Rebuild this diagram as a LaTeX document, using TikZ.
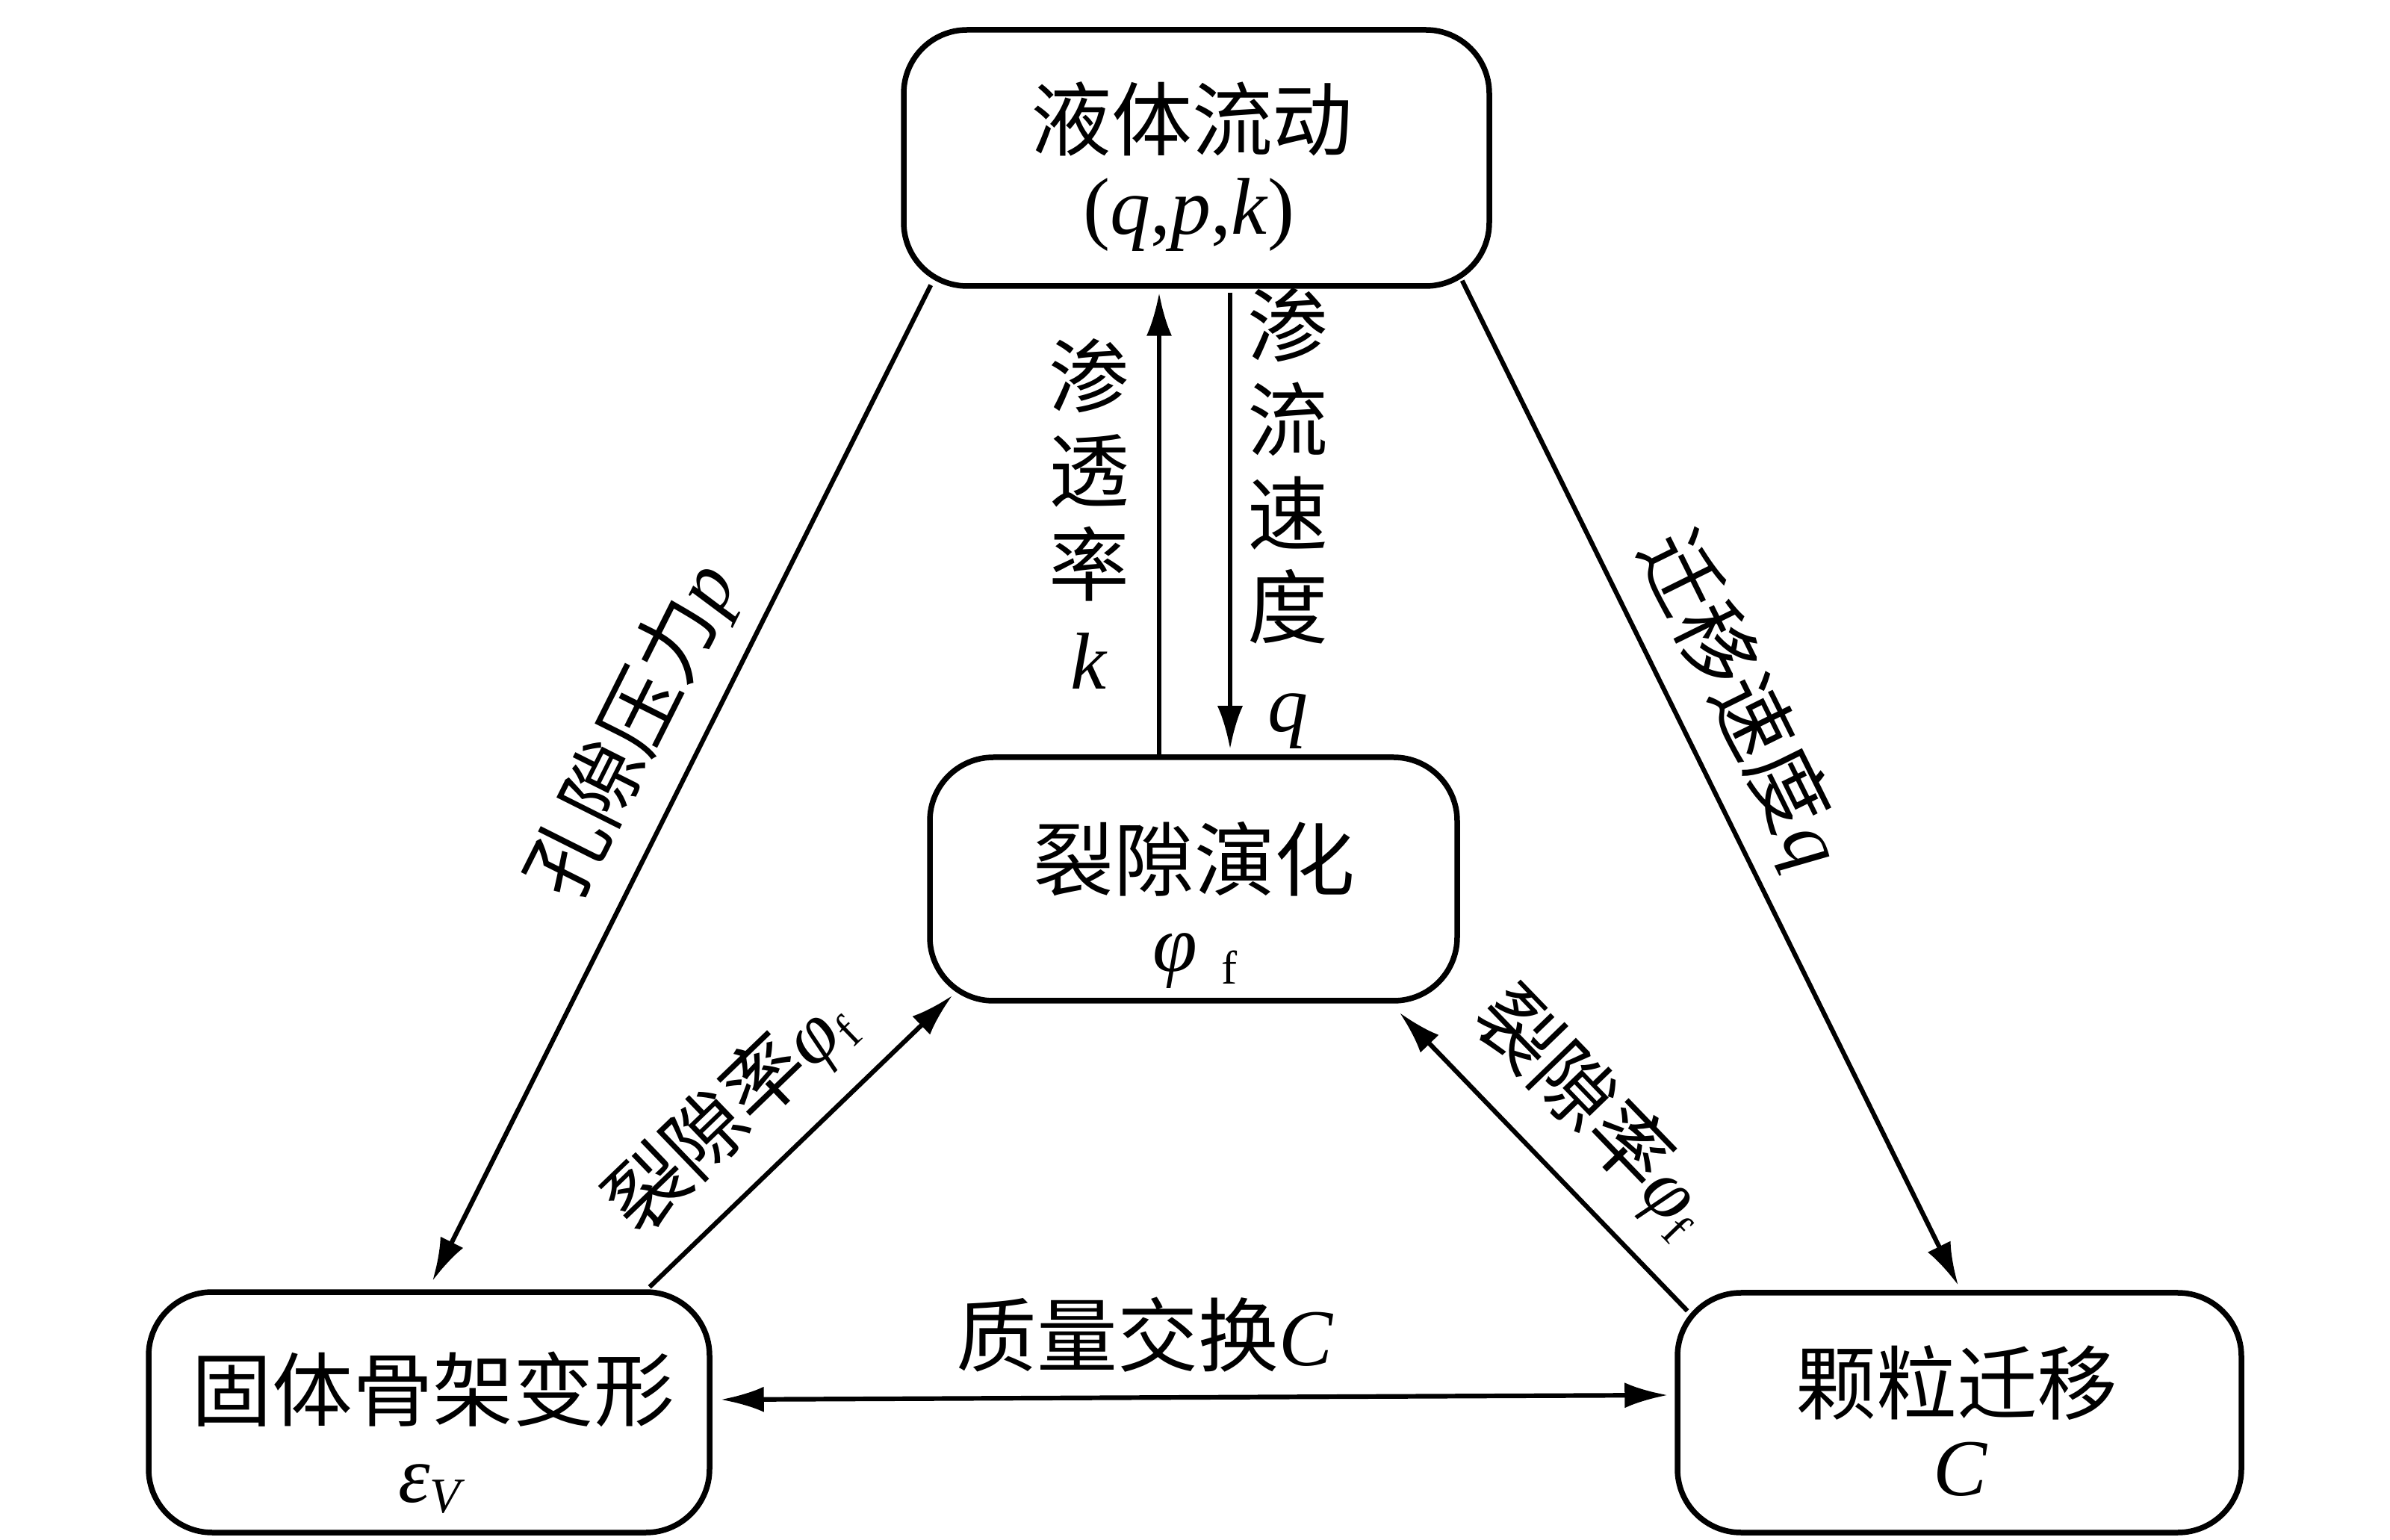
\documentclass[tikz,border=0pt]{standalone}
\usepackage{fontspec}
\setmainfont{Liberation Serif}
\newfontfamily\cjk{Noto Sans CJK SC}
\usetikzlibrary{arrows.meta,calc}
\tikzset{
  bigtip/.tip={Latex[length=5.8mm,width=3.4mm]},
  box/.style={draw, line width=0.075cm, rounded corners=0.85cm, inner sep=0pt},
  lbl/.style={inner sep=0pt, font=\fontsize{30.7}{36}\selectfont},
  vlbl/.style={inner sep=0pt, align=center, font=\fontsize{30.7}{35.8}\selectfont},
  conn/.style={line width=0.062cm},
}
\newcommand{\subf}{\raisebox{-0.15em}{\fontsize{18}{20}\selectfont f}}
\begin{document}
\begin{tikzpicture}
\useasboundingbox (0,0) rectangle (32,-20.62);

% boxes
\node[box, minimum width=7.84cm, minimum height=3.43cm] (top) at (16.02,-2.115) {};
\node[box, minimum width=7.06cm, minimum height=3.26cm] (mid) at (15.98,-11.77) {};
\node[box, minimum width=7.51cm, minimum height=3.22cm] (solid) at (5.745,-18.91) {};
\node[box, minimum width=7.55cm, minimum height=3.21cm] (part) at (26.235,-18.915) {};

% box texts
\node[lbl] (topA) at (15.96,-1.59) {{\cjk 液体流动}};
\node[lbl] (topB) at (15.92,-2.88) {(\textit{q},\textit{p},\textit{k})};
\node[lbl] (midA) at (15.99,-11.50) {{\cjk 裂隙演化}};
\node[lbl] (midB) at (16.00,-12.87) {\textit{φ}\hspace{0.3em}\subf};
\node[lbl] (solA) at (5.80,-18.60) {{\cjk 固体骨架变形}};
\node[lbl] (solB) at (5.78,-19.94) {\textit{ε}\raisebox{-0.13em}{\fontsize{19}{20}\selectfont\textit{V}}};
\node[lbl] (parA) at (26.20,-18.52) {{\cjk 颗粒迁移}};
\node[lbl] (parB) at (26.25,-19.67) {\textit{C}};

% connectors
\coordinate (ux) at (15.52,0);
\coordinate (dx) at (16.47,0);
\draw[conn,-bigtip] (mid.north -| ux) -- ($(top.south -| ux)+(0,-0.05)$);
\draw[conn,-bigtip] ($(top.south -| dx)+(0,-0.05)$) -- ($(mid.north -| dx)+(0,0.07)$);
\draw[conn,-bigtip] ($(top.south west)+(0.40,0.05)$) -- ($(solid.north)+(0.045,0.11)$);
\draw[conn,-bigtip] ($(top.south east)+(-0.40,0.11)$) -- ($(part.north)+(-0.015,0.06)$);
\draw[conn,-bigtip] ($(solid.north east)+(-0.84,0.03)$) -- ($(mid.south west)+(0.34,0.11)$);
\draw[conn,-bigtip] ($(part.north west)+(0.17,-0.28)$) -- ($(mid.south east)+(-0.81,-0.12)$);
\draw[conn,bigtip-bigtip] ($(solid.east)+(0.11,0.17)$) -- ($(part.west)+(-0.09,0.235)$);

% connector labels
\node[vlbl] (perm) at (14.58,-6.88) {{\cjk 渗}\\{\cjk 透}\\{\cjk 率}\\\textit{k}};
\node[vlbl] (seep) at (17.24,-6.94) {{\cjk 渗}\\{\cjk 流}\\{\cjk 速}\\{\cjk 度}\\\textit{q}};
\node[lbl, rotate=63.4] (pore) at (8.49,-9.79) {{\cjk 孔隙压力}\textit{p}};
\node[lbl, rotate=-63.7] (mig) at (23.30,-9.38) {{\cjk 迁移速度}\textit{q}};
\node[lbl, rotate=43.9] (fracL) at (9.77,-14.93) {{\cjk 裂隙率}\textit{φ}\subf};
\node[lbl, rotate=-46] (fracR) at (21.33,-14.88) {{\cjk 裂隙率}\textit{φ}\subf};
\node[lbl] (mass) at (15.33,-17.87) {{\cjk 质量交换}\textit{C}};
\end{tikzpicture}
\end{document}
